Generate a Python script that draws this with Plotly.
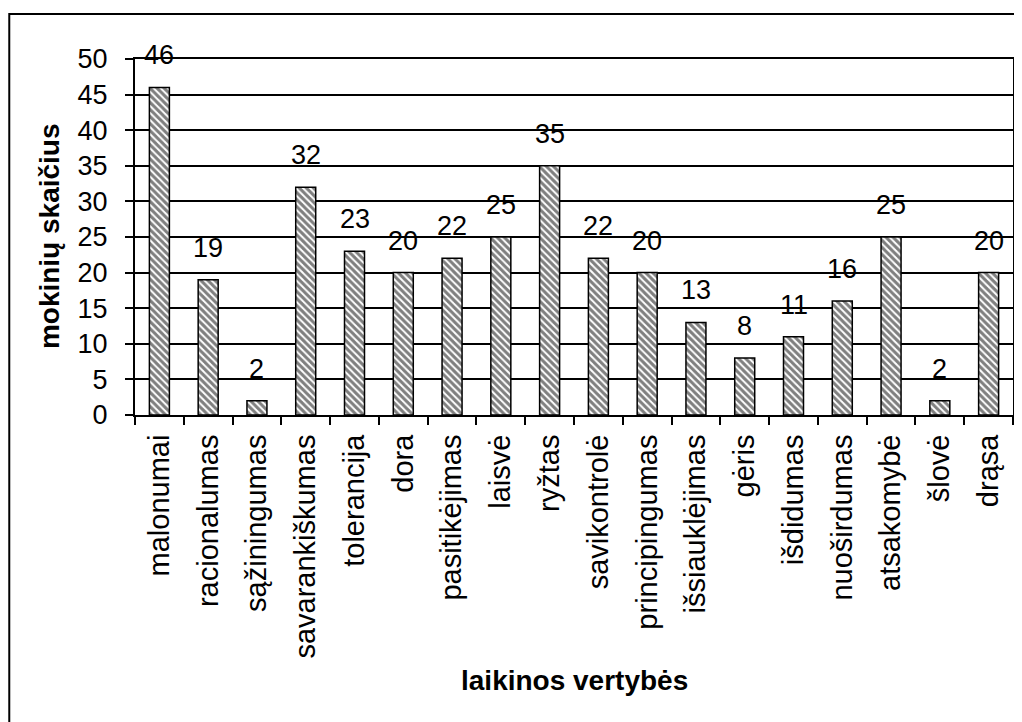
import plotly.graph_objects as go

categories = ["malonumai", "racionalumas", "sąžiningumas", "savarankiškumas", "tolerancija",
              "dora", "pasitikėjimas", "laisvė", "ryžtas", "savikontrolė", "principingumas",
              "išsiauklėjimas", "gėris", "išdidumas", "nuoširdumas", "atsakomybė",
              "šlovė", "drąsa"]
values = [46, 19, 2, 32, 23, 20, 22, 25, 35, 22, 20, 13, 8, 11, 16, 25, 2, 20]
y_ticks = [0, 5, 10, 15, 20, 25, 30, 35, 40, 45, 50]
x_title = "laikinos vertybės"
y_title = "mokinių skaičius"

FONT = "Liberation Sans, Arial, sans-serif"

fig = go.Figure()
fig.add_trace(go.Bar(
    x=categories, y=values,
    width=0.41,
    marker=dict(
        color="white",
        line=dict(color="black", width=1.5),
        pattern=dict(shape="\\", fgcolor="black", bgcolor="white", size=5, solidity=0.6),
    ),
    showlegend=False,
))

annotations = []
for c, v in zip(categories, values):
    annotations.append(dict(x=c, y=v, xref="x", yref="y", text=str(v), showarrow=False,
                            yanchor="bottom", yshift=15,
                            font=dict(family=FONT, size=27, color="black")))
annotations.append(dict(x=0.5, y=-0.745, xref="paper", yref="paper", text=f"<b>{x_title}</b>",
                        showarrow=False, xanchor="center", yanchor="middle",
                        font=dict(family=FONT, size=28, color="black")))
annotations.append(dict(x=-0.0966, y=0.503, xref="paper", yref="paper", text=f"<b>{y_title}</b>",
                        showarrow=False, xanchor="center", yanchor="middle", textangle=-90,
                        font=dict(family=FONT, size=28, color="black")))

fig.update_layout(
    width=1014, height=714,
    margin=dict(l=127, r=7, t=51, b=307),
    paper_bgcolor="white", plot_bgcolor="white",
    font=dict(family=FONT, color="black"),
    annotations=annotations,
    shapes=[dict(type="rect", xref="paper", yref="paper", x0=-0.1432, x1=1.05, y0=-1.0, y1=1.1264,
                 line=dict(color="black", width=2), fillcolor="rgba(0,0,0,0)", layer="above")],
    xaxis=dict(
        type="category", showgrid=False, showline=True, linecolor="black", linewidth=2, mirror=True,
        ticks="outside", tickson="boundaries", ticklen=8, tickcolor="black", tickwidth=1.5,
        tickangle=-90, tickfont=dict(family=FONT, size=29, color="black"),
        ticklabelstandoff=6,
    ),
    yaxis=dict(
        range=[0, 50], tickvals=y_ticks, showgrid=True, gridcolor="black", gridwidth=1.5,
        showline=True, linecolor="black", linewidth=2, mirror=True,
        ticks="outside", ticklen=8, tickcolor="black", tickwidth=1.5,
        tickfont=dict(family=FONT, size=27, color="black"), ticklabelstandoff=12,
        zeroline=False,
    ),
)

fig.write_html("out.html")
